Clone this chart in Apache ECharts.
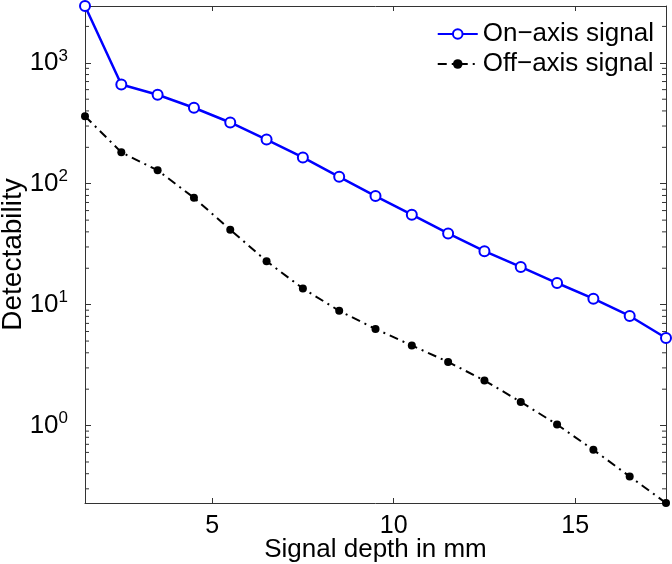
<!DOCTYPE html>
<html>
<head>
<meta charset="utf-8">
<script src="https://cdn.jsdelivr.net/npm/echarts@6/dist/echarts.min.js"></script>
<style>html,body{margin:0;padding:0;background:#fff;}#c{width:672px;height:564px;}</style>
</head>
<body>
<div id="c"></div>
<script>
const depth = [1.5, 2.5, 3.5, 4.5, 5.5, 6.5, 7.5, 8.5, 9.5, 10.5, 11.5, 12.5, 13.5, 14.5, 15.5, 16.5, 17.5];
const onAxis = [2950, 662, 544, 425, 321, 232, 165, 114, 79, 55.5, 38.8, 27.7, 20.5, 15.1, 11.2, 8.06, 5.3];
const offAxis = [362, 182, 129, 76.6, 41.7, 22.9, 13.6, 8.9, 6.3, 4.6, 3.36, 2.36, 1.57, 1.02, 0.63, 0.38, 0.229];
const seriesNames = ['On\u2212axis signal', 'Off\u2212axis signal'];
const xTickLabels = [5, 10, 15];
const yDecades = [0, 1, 2, 3];
const yMinorTicks = [0.3,0.4,0.5,0.6,0.7,0.8,0.9,2,3,4,5,6,7,8,9,20,30,40,50,60,70,80,90,200,300,400,500,600,700,800,900,2000];

const FONT = "'Liberation Sans', Arial, Helvetica, sans-serif";
const AX = '#333333';
const yMin = 0.229, yMax = 2950;

const chart = echarts.init(document.getElementById('c'), null, {renderer: 'canvas'});

function yLabel(v) {
  const l = Math.log10(v);
  const e = Math.round(l);
  if (Math.abs(l - e) > 1e-6 || yDecades.indexOf(e) < 0) return '';
  return '{b|10}{s|' + e + '}';
}
function xLabel(v) {
  return xTickLabels.some(t => Math.abs(t - v) < 1e-9) ? String(Math.round(v)) : '';
}

const option = {
  animation: false,
  backgroundColor: '#fff',
  textStyle: {fontFamily: FONT},
  grid: {left: 85, right: 6, top: 6, bottom: 61, outerBoundsMode: 'none', containLabel: false},
  legend: {
    orient: 'vertical', right: 13, top: 16, itemWidth: 40, itemHeight: 12, itemGap: 4,
    textStyle: {fontSize: 26, fontFamily: FONT, color: '#000', lineHeight: 26},
    data: seriesNames
  },
  xAxis: [{
    type: 'value', min: 1.5, max: 17.5, splitNumber: 3,
    name: 'Signal depth in mm', nameLocation: 'middle', nameGap: 34, nameMoveOverlap: false,
    nameTextStyle: {fontSize: 26, color: '#000', fontFamily: FONT},
    axisLine: {show: true, onZero: false, lineStyle: {color: AX, width: 1}},
    axisTick: {show: true, inside: true, length: 5, lineStyle: {color: AX}},
    axisLabel: {formatter: xLabel, fontSize: 25, color: '#000', margin: 11, fontFamily: FONT},
    splitLine: {show: false}
  }, {
    type: 'value', position: 'top', min: 1.5, max: 17.5, splitNumber: 3,
    axisLine: {show: true, onZero: false, lineStyle: {color: AX, width: 1}},
    axisTick: {show: true, inside: true, length: 5, lineStyle: {color: AX}},
    axisLabel: {show: false}, splitLine: {show: false}
  }],
  yAxis: [{
    type: 'log', logBase: 10, min: yMin, max: yMax,
    name: 'Detectability', nameLocation: 'middle', nameGap: 58, nameMoveOverlap: false,
    nameTextStyle: {fontSize: 28, color: '#000', fontFamily: FONT},
    axisLine: {show: true, onZero: false, lineStyle: {color: AX, width: 1}},
    axisTick: {show: true, inside: true, length: 6, lineStyle: {color: AX}},
    axisLabel: {
      formatter: yLabel, margin: 17, color: '#000',
      rich: {
        b: {fontSize: 26, fontFamily: FONT, color: '#000'},
        s: {fontSize: 17, fontFamily: FONT, color: '#000', verticalAlign: 'bottom', padding: [0, 0, 14, 0]}
      }
    },
    splitLine: {show: false}
  }, {
    type: 'log', logBase: 10, min: yMin, max: yMax, position: 'right',
    axisLine: {show: true, onZero: false, lineStyle: {color: AX, width: 1}},
    axisTick: {show: true, inside: true, length: 6, lineStyle: {color: AX}},
    axisLabel: {show: false}, splitLine: {show: false}
  }],
  series: [{
    name: seriesNames[0], type: 'line',
    data: depth.map((x, i) => [x, onAxis[i]]),
    color: '#0000ff',
    lineStyle: {color: '#0000ff', width: 2.5},
    symbol: 'emptyCircle', symbolSize: 10,
    itemStyle: {color: '#0000ff', borderColor: '#0000ff', borderWidth: 2.5},
    z: 3
  }, {
    name: seriesNames[1], type: 'line',
    data: depth.map((x, i) => [x, offAxis[i]]),
    color: '#000',
    lineStyle: {color: '#000', width: 2, type: [9, 5, 2, 5]},
    symbol: 'circle', symbolSize: 8,
    itemStyle: {color: '#000'},
    z: 2
  }, {
    type: 'custom', silent: true, legendHoverLink: false,
    data: yMinorTicks.map(v => [1.5, v]),
    renderItem: function (params, api) {
      const cs = params.coordSys;
      const y = api.coord([1.5, api.value(1)])[1];
      const l = cs.x, r = cs.x + cs.width;
      return {
        type: 'group',
        children: [
          {type: 'line', shape: {x1: l, y1: y, x2: l + 4, y2: y}, style: {stroke: AX, lineWidth: 1}},
          {type: 'line', shape: {x1: r - 4, y1: y, x2: r, y2: y}, style: {stroke: AX, lineWidth: 1}}
        ]
      };
    },
    z: 1
  }]
};
chart.setOption(option);
</script>
</body>
</html>
